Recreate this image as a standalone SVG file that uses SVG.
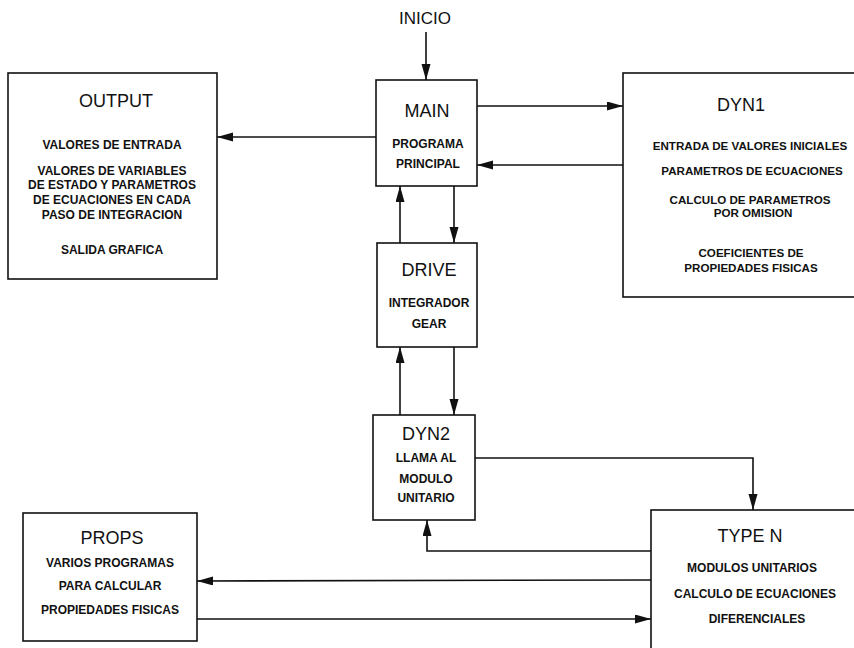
<svg xmlns="http://www.w3.org/2000/svg" width="854" height="648" viewBox="0 0 854 648">
<defs>
<style>
.box{fill:#fff;stroke:#111;stroke-width:1.6}
.t{font-family:"Liberation Sans",Arial,sans-serif;font-size:18px;fill:#111;text-anchor:middle}
.b{font-family:"Liberation Sans",Arial,sans-serif;font-size:12px;font-weight:bold;fill:#111;text-anchor:middle}
.s{font-size:11.6px}
.c{fill:none;stroke:#111;stroke-width:1.6}
</style>
<marker id="ah" markerUnits="userSpaceOnUse" markerWidth="17" markerHeight="10" refX="16" refY="4.5" orient="auto">
<path d="M0,0 L16,4.5 L0,9 z" fill="#111"/>
</marker>
</defs>
<rect width="854" height="648" fill="#fff"/>
<g id="inicio"><text class="t" x="425" y="24" style="font-size:17px">INICIO</text></g>
<g id="output">
<rect class="box" x="8" y="73" width="209" height="206"/>
<text class="t" x="116" y="107">OUTPUT</text>
<text class="b" x="112" y="149">VALORES DE ENTRADA</text>
<text class="b" x="112" y="175">VALORES DE VARIABLES</text>
<text class="b" x="112" y="189">DE ESTADO Y PARAMETROS</text>
<text class="b" x="112" y="204">DE ECUACIONES EN CADA</text>
<text class="b" x="112" y="219">PASO DE INTEGRACION</text>
<text class="b" x="112" y="254">SALIDA GRAFICA</text>
</g>
<g id="main">
<rect class="box" x="376" y="80" width="101" height="106"/>
<text class="t" x="427" y="117">MAIN</text>
<text class="b" x="428" y="148">PROGRAMA</text>
<text class="b" x="428" y="168">PRINCIPAL</text>
</g>
<g id="dyn1">
<rect class="box" x="623" y="73" width="240" height="224"/>
<text class="t" x="741" y="111">DYN1</text>
<text class="b s" x="750" y="150">ENTRADA DE VALORES INICIALES</text>
<text class="b s" x="752" y="175">PARAMETROS DE ECUACIONES</text>
<text class="b s" x="750" y="204">CALCULO DE PARAMETROS</text>
<text class="b s" x="753" y="217">POR OMISION</text>
<text class="b s" x="751" y="257">COEFICIENTES DE</text>
<text class="b s" x="751" y="272">PROPIEDADES FISICAS</text>
</g>
<g id="drive">
<rect class="box" x="377" y="243" width="100" height="104"/>
<text class="t" x="429" y="276">DRIVE</text>
<text class="b" x="429" y="307">INTEGRADOR</text>
<text class="b" x="429" y="328">GEAR</text>
</g>
<g id="dyn2">
<rect class="box" x="373" y="415" width="102" height="105"/>
<text class="t" x="426" y="440">DYN2</text>
<text class="b" x="426" y="462">LLAMA AL</text>
<text class="b" x="426" y="483">MODULO</text>
<text class="b" x="426" y="502">UNITARIO</text>
</g>
<g id="props">
<rect class="box" x="23" y="513" width="174" height="128"/>
<text class="t" x="112" y="544">PROPS</text>
<text class="b" x="110" y="567">VARIOS PROGRAMAS</text>
<text class="b" x="110" y="590">PARA CALCULAR</text>
<text class="b" x="110" y="614">PROPIEDADES FISICAS</text>
</g>
<g id="typen">
<rect class="box" x="651" y="510" width="220" height="150"/>
<text class="t" x="750" y="542">TYPE N</text>
<text class="b" x="752" y="572">MODULOS UNITARIOS</text>
<text class="b" x="755" y="598">CALCULO DE ECUACIONES</text>
<text class="b" x="757" y="623">DIFERENCIALES</text>
</g>
<g id="connectors">
<path class="c" d="M426,32 L426,80" marker-end="url(#ah)"/>
<path class="c" d="M376,137 L217,137" marker-end="url(#ah)"/>
<path class="c" d="M477,106 L623,106" marker-end="url(#ah)"/>
<path class="c" d="M623,165 L477,165" marker-end="url(#ah)"/>
<path class="c" d="M400,243 L400,186" marker-end="url(#ah)"/>
<path class="c" d="M454,186 L454,243" marker-end="url(#ah)"/>
<path class="c" d="M400,415 L400,347" marker-end="url(#ah)"/>
<path class="c" d="M454,347 L454,415" marker-end="url(#ah)"/>
<path class="c" d="M475,458 L753,458 L753,510" marker-end="url(#ah)"/>
<path class="c" d="M651,551 L427,551 L427,520" marker-end="url(#ah)"/>
<path class="c" d="M651,580 L197,581" marker-end="url(#ah)"/>
<path class="c" d="M197,619 L651,619" marker-end="url(#ah)"/>
</g>
</svg>
